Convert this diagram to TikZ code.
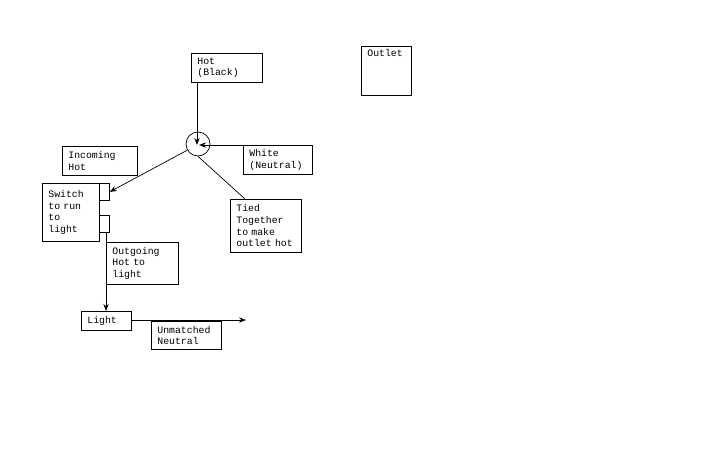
\documentclass[tikz,border=0pt]{standalone}
\usepackage{fontspec}
\setmonofont{Liberation Mono}
\usetikzlibrary{positioning,arrows.meta}

\begin{document}
\begin{tikzpicture}[x=0.02cm,y=-0.02cm,
    box/.style={draw, thin, anchor=north west, inner xsep=3pt, inner ysep=0pt, align=left,
        font=\ttfamily\fontsize{5.6}{6.6}\selectfont},
    tab/.style={draw, thin, anchor=north west, inner sep=0pt},
    wire/.style={thin, -{Stealth[length=4pt,width=3pt]}},
    plain/.style={thin}
    ]
\useasboundingbox (0,0) rectangle (720,450);

% boxes
\node[box, minimum width=71*0.02cm, minimum height=29*0.02cm, text width=59*0.02cm] (hot) at (191,53) {Hot\\(Black)};
\node[box, minimum width=50*0.02cm, minimum height=49*0.02cm] (outlet) at (361,46) {};
\node[font=\ttfamily\fontsize{5.6}{6.6}\selectfont, anchor=north west, inner sep=0pt] (outlet-txt) at (367,49) {Outlet};
\node[draw, thin, circle, minimum size=24*0.02cm, inner sep=0pt] (joint) at (198,144) {};
\node[box, minimum width=69*0.02cm, minimum height=29*0.02cm, text width=57*0.02cm] (white) at (243,145) {White\\(Neutral)};
\node[box, minimum width=75*0.02cm, minimum height=29*0.02cm, text width=63*0.02cm] (incoming) at (62,146) {Incoming\\Hot};
\node[box, minimum width=57*0.02cm, minimum height=58*0.02cm, text width=45*0.02cm] (switch) at (42,183) {Switch\\to run\\to\\light};
\node[tab, minimum width=10*0.02cm, minimum height=17*0.02cm] (tab-in) at (99,183) {};
\node[tab, minimum width=10*0.02cm, minimum height=17*0.02cm] (tab-out) at (99,215) {};
\node[box, minimum width=71*0.02cm, minimum height=53*0.02cm, text width=59*0.02cm] (tied) at (230,199) {Tied\\Together\\to make\\outlet hot};
\node[box, minimum width=72*0.02cm, minimum height=42*0.02cm, text width=60*0.02cm] (outgoing) at (106,242) {Outgoing\\Hot to\\light};
\node[box, minimum width=50*0.02cm, minimum height=19*0.02cm, text width=38*0.02cm] (light) at (81,311) {Light};
\node[box, minimum width=70*0.02cm, minimum height=28*0.02cm, text width=58*0.02cm] (unmatched) at (151,321) {Unmatched\\Neutral};
\coordinate (neutral-end) at (246,320);
\coordinate (white-end) at (300,145);

% wires
\draw[wire] (hot.south -| 197,0) -- (197,145);
\draw[wire] (white-end) -- (199,145);
\draw[wire] (joint.210) -- (tab-in.east);
\draw[plain] (joint.south) -- (tied.north -| 245,0);
\draw[wire] (tab-out.south west -| 106,0) -- (light.north -| 106,0);
\draw[wire] (light.east |- neutral-end) -- (neutral-end);
\end{tikzpicture}
\end{document}
